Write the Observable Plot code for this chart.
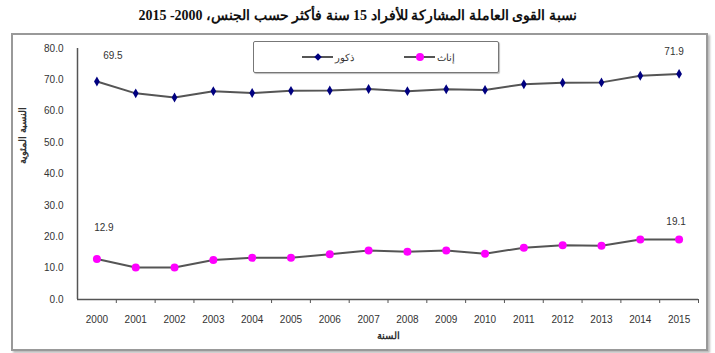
<!DOCTYPE html>
<html><head><meta charset="utf-8">
<script src="https://cdn.jsdelivr.net/npm/d3@7"></script>
<script src="https://cdn.jsdelivr.net/npm/@observablehq/plot@0.6"></script>
<style>
body{margin:0;background:#fff;}
#wrap{position:relative;width:715px;height:353px;overflow:hidden;font-family:"Liberation Sans",Arial,sans-serif;}
#frame{position:absolute;left:11px;top:33px;width:693px;height:314px;border:2px solid #999;box-shadow:2px 2px 2px #bbb;}
#title{position:absolute;left:0;top:7px;width:715px;text-align:center;font:bold 14px "Liberation Serif","Times New Roman",serif;color:#111;direction:rtl;}
#legend{position:absolute;left:253px;top:41px;width:244px;height:30px;border:1.5px solid #777;border-radius:2px;background:#fff;box-shadow:1px 1px 1px #bbb;}
#chart{position:absolute;left:0;top:0;}
</style></head>
<body>
<div id="wrap">
<div id="frame"></div>
<div id="chart"></div>
<div id="title"></div>
<div id="legend"></div>
</div>
<script>
const years = [2000,2001,2002,2003,2004,2005,2006,2007,2008,2009,2010,2011,2012,2013,2014,2015];
const males = [69.5,65.7,64.4,66.4,65.8,66.5,66.6,67.1,66.4,67.0,66.8,68.6,69.1,69.2,71.3,71.9];
const females = [12.9,10.2,10.2,12.6,13.3,13.3,14.4,15.6,15.2,15.6,14.6,16.5,17.3,17.1,19.1,19.1];
const yTicks = [0,10,20,30,40,50,60,70,80];
const titleText = "نسبة القوى العاملة المشاركة للأفراد 15 سنة فأكثر حسب الجنس، 2000- 2015";
const maleName = "ذكور";
const femaleName = "إناث";
const xLabel = "السنة";
const yLabel = "النسبة المئوية";

const maleData = years.map((y,i)=>({year:y, v:males[i]}));
const femaleData = years.map((y,i)=>({year:y, v:females[i]}));
const boundaries = d3.range(years[0]+0.5, years[years.length-1]+1, 1);

const plot = Plot.plot({
  width:715, height:353,
  marginLeft:77, marginRight:17, marginTop:48, marginBottom:54,
  style:{fontFamily:"Liberation Sans, Arial, sans-serif", fontSize:"10px", color:"#333", background:"transparent"},
  x:{domain:[1999.5,2015.5], axis:null},
  y:{domain:[0,80], axis:null},
  marks:[
    Plot.axisY({ticks:yTicks, tickFormat:d=>d.toFixed(1), tickSize:0, tickPadding:14, label:null, fontSize:10}),
    Plot.axisX({ticks:years, tickFormat:d=>String(d), tickSize:0, tickPadding:16, label:null, fontSize:10}),
    Plot.axisX({ticks:boundaries, tickFormat:()=>"", tickSize:4, label:null, stroke:"#555"}),
    Plot.ruleX([1999.5], {stroke:"#555", strokeWidth:1.5}),
    Plot.ruleY([0], {stroke:"#555", strokeWidth:1.5}),
    Plot.line(maleData, {x:"year", y:"v", stroke:"#555", strokeWidth:2}),
    Plot.line(femaleData, {x:"year", y:"v", stroke:"#555", strokeWidth:2}),
    Plot.dot(maleData, {x:"year", y:"v", symbol:"diamond", r:3, fill:"#000080", stroke:"none"}),
    Plot.dot(femaleData, {x:"year", y:"v", symbol:"circle", r:4, fill:"#ff00ff", stroke:"none"}),
    Plot.text([maleData[0]], {x:"year", y:"v", text:d=>d.v.toFixed(1), dx:16, dy:-26, fill:"#333"}),
    Plot.text([maleData[15]], {x:"year", y:"v", text:d=>d.v.toFixed(1), dx:-5, dy:-22, fill:"#333"}),
    Plot.text([femaleData[0]], {x:"year", y:"v", text:d=>d.v.toFixed(1), dx:7, dy:-31, fill:"#333"}),
    Plot.text([femaleData[15]], {x:"year", y:"v", text:d=>d.v.toFixed(1), dx:-3, dy:-18, fill:"#333"}),
    Plot.text([xLabel], {frameAnchor:"bottom", dy:39, fontWeight:"bold", fontSize:10, fill:"#333"}),
    Plot.text([yLabel], {frameAnchor:"left", dx:-55, dy:-10, rotate:-90, fontWeight:"bold", fontSize:10, fill:"#333"})
  ]
});
document.getElementById("chart").appendChild(plot);
document.getElementById("title").textContent = titleText;

const lg = d3.select("#legend").append("svg").attr("width",244).attr("height",30).style("font-family","Liberation Sans, Arial, sans-serif").style("font-size","10px");
const entries = [{name:maleName, x0:48, fill:"#000080", sym:"diamond"},{name:femaleName, x0:150, fill:"#ff00ff", sym:"circle"}];
entries.forEach(e=>{
  lg.append("line").attr("x1",e.x0).attr("x2",e.x0+31).attr("y1",15).attr("y2",15).attr("stroke","#555").attr("stroke-width",2);
  if(e.sym==="diamond"){
    lg.append("path").attr("d",d3.symbol(d3.symbolDiamond2,36)()).attr("transform",`translate(${e.x0+16},15)`).attr("fill",e.fill);
  } else {
    lg.append("circle").attr("cx",e.x0+16).attr("cy",15).attr("r",4).attr("fill",e.fill);
  }
  lg.append("text").attr("x",e.x0+33).attr("y",15).attr("dy","0.35em").attr("fill","#333").text(e.name);
});
</script>
</body></html>
